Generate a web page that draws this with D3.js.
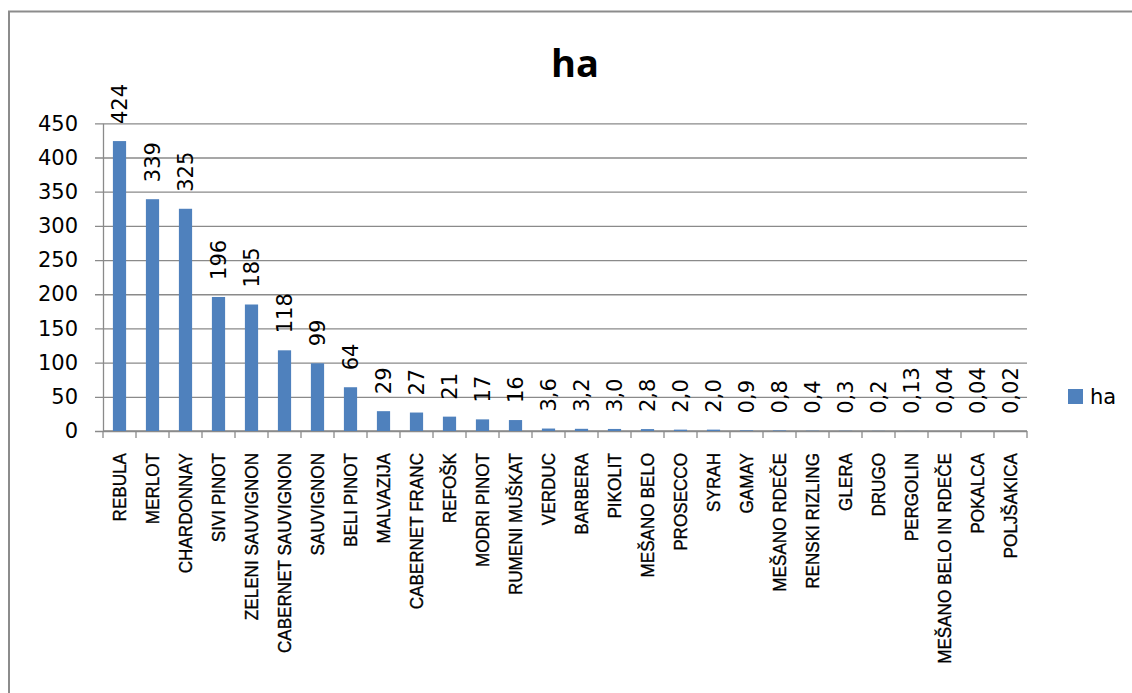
<!DOCTYPE html>
<html>
<head>
<meta charset="utf-8">
<script src="https://cdn.jsdelivr.net/npm/d3@7"></script>
<style>
  html, body { margin: 0; padding: 0; background: #fff; }
  svg { display: block; }
</style>
</head>
<body>
<svg id="chart" width="1132" height="693"></svg>
<script>
// Vineyard area by grape variety (ha)
const categories = [
  "REBULA", "MERLOT", "CHARDONNAY", "SIVI PINOT", "ZELENI SAUVIGNON",
  "CABERNET SAUVIGNON", "SAUVIGNON", "BELI PINOT", "MALVAZIJA", "CABERNET FRANC",
  "REFOŠK", "MODRI PINOT", "RUMENI MUŠKAT", "VERDUC", "BARBERA", "PIKOLIT",
  "MEŠANO BELO", "PROSECCO", "SYRAH", "GAMAY", "MEŠANO RDEČE", "RENSKI RIZLING",
  "GLERA", "DRUGO", "PERGOLIN", "MEŠANO BELO IN RDEČE", "POKALCA", "POLJŠAKICA"
];
const values = [
  424, 339, 325, 196, 185, 118, 99, 64, 29, 27, 21, 17, 16,
  3.6, 3.2, 3.0, 2.8, 2.0, 2.0, 0.9, 0.8, 0.4, 0.3, 0.2, 0.13, 0.04, 0.04, 0.02
];
// decimals shown in each data label
const labelDecimals = [
  0, 0, 0, 0, 0, 0, 0, 0, 0, 0, 0, 0, 0,
  1, 1, 1, 1, 1, 1, 1, 1, 1, 1, 1, 2, 2, 2, 2
];
const yTicks = [0, 50, 100, 150, 200, 250, 300, 350, 400, 450];
const seriesName = "ha";

const svg = d3.select("#chart");
const W = 1132, H = 693;
const plot = { left: 103, right: 1027, top: 123.3, bottom: 431 };
const barColor = "#4F81BD";
const gridColor = "#8A8A8A";

// outer chart frame
svg.append("rect")
  .attr("x", 9).attr("y", 11.5)
  .attr("width", W + 20).attr("height", H + 20)
  .attr("fill", "#fff")
  .attr("stroke", "#8C8C8C").attr("stroke-width", 2);

// title
svg.append("text")
  .attr("x", 575).attr("y", 77)
  .attr("text-anchor", "middle")
  .attr("font-family", "'Open Sans', 'DejaVu Sans', sans-serif")
  .attr("font-weight", 700)
  .attr("font-size", 38)
  .attr("fill", "#000")
  .text(seriesName);

const x = d3.scaleBand()
  .domain(categories)
  .range([plot.left, plot.right])
  .paddingInner(0.6)
  .paddingOuter(0.3);

const y = d3.scaleLinear()
  .domain([0, 450])
  .range([plot.bottom, plot.top]);

// horizontal gridlines with short outside ticks
const grid = svg.append("g")
  .attr("transform", `translate(${plot.left},0)`)
  .call(d3.axisLeft(y).tickValues(yTicks).tickSize(-(plot.right - plot.left)).tickFormat(""));
grid.select(".domain").remove();
grid.selectAll(".tick line")
  .attr("x1", -8)
  .attr("stroke", gridColor).attr("stroke-width", 1.3);

// y axis line and labels
const yAxis = svg.append("g")
  .attr("transform", `translate(${plot.left},0)`)
  .call(d3.axisLeft(y).tickValues(yTicks).tickSize(0).tickPadding(25).tickFormat(d3.format("d")));
yAxis.select(".domain")
  .attr("stroke", gridColor).attr("stroke-width", 1.3);
yAxis.selectAll(".tick text")
  .attr("font-family", "'DejaVu Sans', sans-serif")
  .attr("font-size", 21)
  .attr("fill", "#000");

// category axis: baseline plus tick marks between categories
const step = x.step();
const x0 = plot.left;
const bounds = d3.range(categories.length + 1).map(i => x0 + i * step);
svg.append("line")
  .attr("x1", plot.left).attr("x2", plot.right)
  .attr("y1", plot.bottom).attr("y2", plot.bottom)
  .attr("stroke", gridColor).attr("stroke-width", 1.3);
svg.append("g").selectAll("line")
  .data(bounds)
  .join("line")
  .attr("x1", d => d).attr("x2", d => d)
  .attr("y1", plot.bottom).attr("y2", plot.bottom + 7)
  .attr("stroke", gridColor).attr("stroke-width", 1.3);

// category labels, rotated and condensed along the text direction
svg.append("g").selectAll("text")
  .data(categories)
  .join("text")
  .attr("transform", d => `translate(${x(d) + x.bandwidth() / 2},453) rotate(-90) scale(0.9,1)`)
  .attr("text-anchor", "end")
  .attr("dy", "0.35em")
  .attr("font-family", "'Liberation Sans', Arial, sans-serif")
  .attr("font-size", 19)
  .attr("fill", "#000")
  .attr("stroke", "#000")
  .attr("stroke-width", 0.35)
  .text(d => d);

const data = categories.map((c, i) => ({ c, v: values[i], dec: labelDecimals[i] }));

// bars
svg.append("g").selectAll("rect")
  .data(data)
  .join("rect")
  .attr("x", d => x(d.c))
  .attr("width", x.bandwidth())
  .attr("y", d => y(d.v))
  .attr("height", d => plot.bottom - y(d.v))
  .attr("fill", barColor);

// value labels above bars, decimal comma
const fmt = d => d.v.toFixed(d.dec).replace(".", ",");
svg.append("g").selectAll("text")
  .data(data)
  .join("text")
  .attr("transform", d => `translate(${x(d.c) + x.bandwidth() / 2},${y(d.v) - 17}) rotate(-90)`)
  .attr("text-anchor", "start")
  .attr("dy", "0.36em")
  .attr("font-family", "'DejaVu Sans', sans-serif")
  .attr("font-size", 21)
  .attr("fill", "#000")
  .text(fmt);

// legend
const legend = svg.append("g").attr("transform", "translate(1068,389)");
legend.append("rect")
  .attr("width", 15).attr("height", 15)
  .attr("fill", barColor);
legend.append("text")
  .attr("x", 22).attr("y", 14.5)
  .attr("font-family", "'DejaVu Sans', sans-serif")
  .attr("font-size", 21)
  .attr("fill", "#000")
  .text(seriesName);
</script>
</body>
</html>
